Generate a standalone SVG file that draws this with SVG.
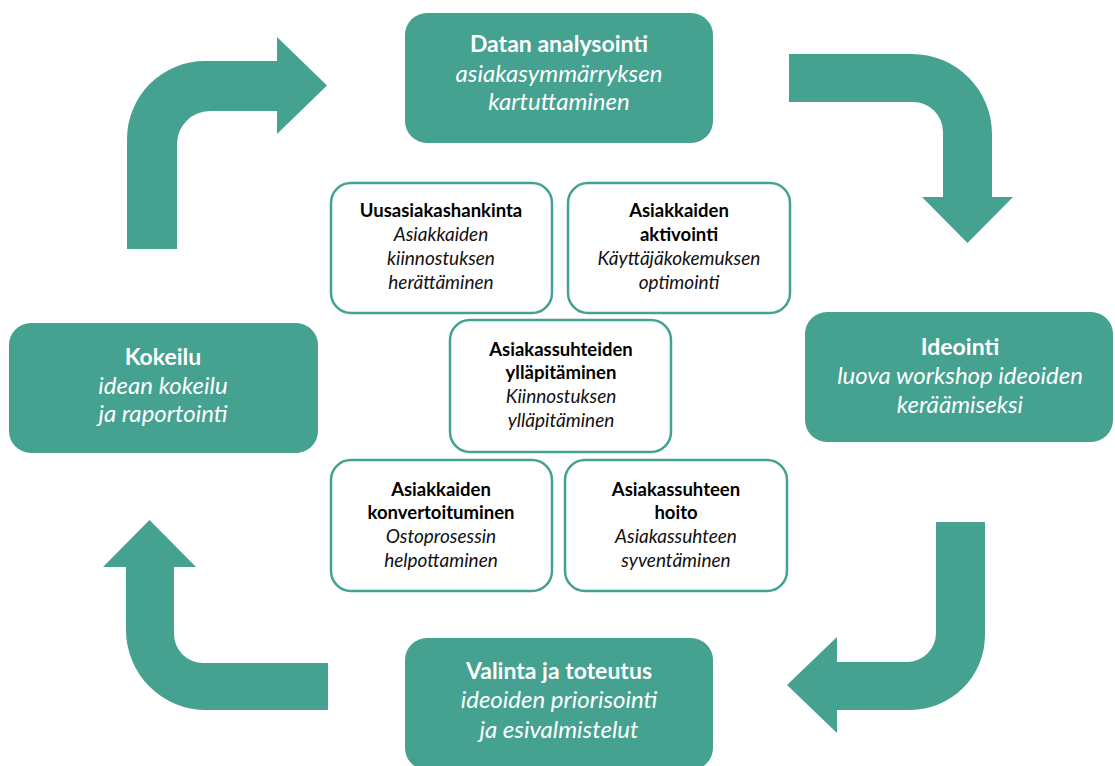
<svg xmlns="http://www.w3.org/2000/svg" width="1115" height="766" viewBox="0 0 1115 766">
<style>
.big{fill:#45A190;}
.small{fill:#fff;stroke:#45A190;stroke-width:2.5;}
.arrow{fill:#45A190;}
text{font-family:Lato,"Open Sans","Liberation Sans",sans-serif;text-anchor:middle;}
.bt{fill:#fff;font-size:23px;font-weight:bold;}
.bi{fill:#fff;font-size:24px;font-style:italic;}
.st{fill:#000;font-size:18.5px;font-weight:bold;}
.si{fill:#111;font-size:19px;font-style:italic;}
</style>
<rect width="1115" height="766" fill="#fff"/>
<g id="connectors">
<path class="arrow" d="M127,249 L127,139 A78,78 0 0 1 205,61 L277,61 L277,37 L327,85.5 L277,134 L277,111 L210,111 A33,33 0 0 0 177,144 L177,249 Z"/>
<path class="arrow" d="M789,54 L912,54 A80,80 0 0 1 992,134 L992,197 L1013,197 L967.5,243 L922,197 L943,197 L943,132 A30,30 0 0 0 913,102 L789,102 Z"/>
<path class="arrow" d="M936,522 L985,522 L985,635 A75,75 0 0 1 910,710 L837,710 L837,733 L787,685 L837,637 L837,662 L907,662 A29,29 0 0 0 936,633 Z"/>
<path class="arrow" d="M328,663 L203,663 A29,29 0 0 1 174,634 L174,567 L196,567 L149.5,520 L103,567 L126,567 L126,630 A80,80 0 0 0 206,710 L328,710 Z"/>
</g>
<g id="datan">
<rect class="big" x="405" y="13" width="308" height="130" rx="22"/>
<text class="bt" x="559" y="52">Datan analysointi</text>
<text class="bi" x="559" y="82">asiakasymmärryksen</text>
<text class="bi" x="559" y="110">kartuttaminen</text>
</g>
<g id="ideointi">
<rect class="big" x="805" y="312" width="308" height="130" rx="22"/>
<text class="bt" x="960" y="355">Ideointi</text>
<text class="bi" x="960" y="384">luova workshop ideoiden</text>
<text class="bi" x="960" y="413">keräämiseksi</text>
</g>
<g id="valinta">
<rect class="big" x="405" y="638" width="308" height="132" rx="22"/>
<text class="bt" x="559" y="679">Valinta ja toteutus</text>
<text class="bi" x="559" y="708">ideoiden priorisointi</text>
<text class="bi" x="559" y="738">ja esivalmistelut</text>
</g>
<g id="kokeilu">
<rect class="big" x="9" y="323" width="309" height="130" rx="22"/>
<text class="bt" x="163" y="365">Kokeilu</text>
<text class="bi" x="163" y="394">idean kokeilu</text>
<text class="bi" x="163" y="422">ja raportointi</text>
</g>
<g id="uusasiakashankinta">
<rect class="small" x="331" y="183" width="221" height="130" rx="20"/>
<text class="st" x="441" y="217">Uusasiakashankinta</text>
<text class="si" x="441" y="241">Asiakkaiden</text>
<text class="si" x="441" y="265">kiinnostuksen</text>
<text class="si" x="441" y="289">herättäminen</text>
</g>
<g id="aktivointi">
<rect class="small" x="568" y="183" width="222" height="130" rx="20"/>
<text class="st" x="679" y="217">Asiakkaiden</text>
<text class="st" x="679" y="241">aktivointi</text>
<text class="si" x="679" y="265">Käyttäjäkokemuksen</text>
<text class="si" x="679" y="289">optimointi</text>
</g>
<g id="yllapitaminen">
<rect class="small" x="450" y="320" width="221" height="132" rx="20"/>
<text class="st" x="561" y="356">Asiakassuhteiden</text>
<text class="st" x="561" y="379">ylläpitäminen</text>
<text class="si" x="561" y="403">Kiinnostuksen</text>
<text class="si" x="561" y="427">ylläpitäminen</text>
</g>
<g id="konvertoituminen">
<rect class="small" x="331" y="460" width="221" height="131" rx="20"/>
<text class="st" x="441" y="496">Asiakkaiden</text>
<text class="st" x="441" y="519">konvertoituminen</text>
<text class="si" x="441" y="543">Ostoprosessin</text>
<text class="si" x="441" y="567">helpottaminen</text>
</g>
<g id="hoito">
<rect class="small" x="565" y="460" width="222" height="131" rx="20"/>
<text class="st" x="676" y="496">Asiakassuhteen</text>
<text class="st" x="676" y="519">hoito</text>
<text class="si" x="676" y="543">Asiakassuhteen</text>
<text class="si" x="676" y="567">syventäminen</text>
</g>
</svg>
